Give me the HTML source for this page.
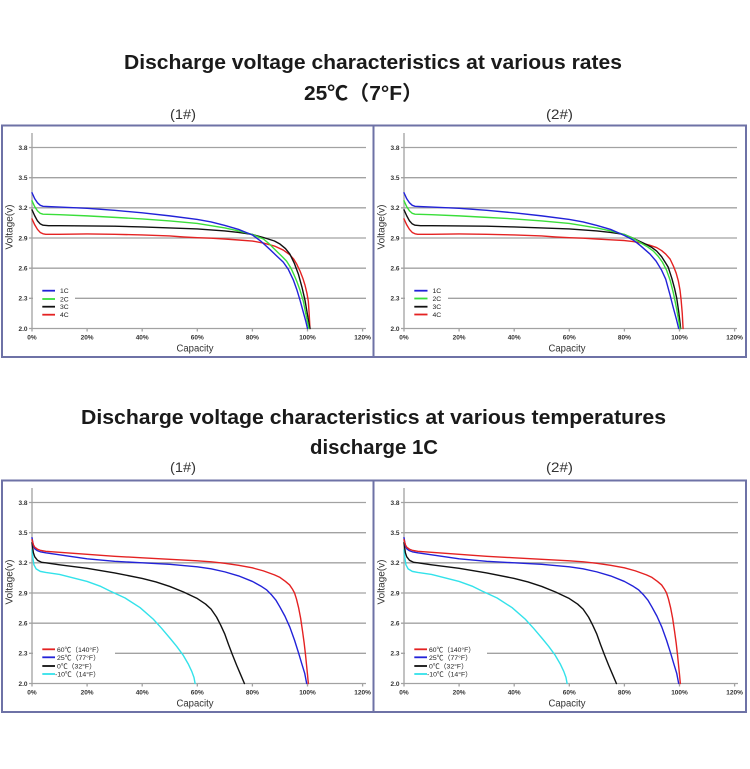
<!DOCTYPE html>
<html>
<head>
<meta charset="utf-8">
<style>
html,body{margin:0;padding:0;background:#fff;}
svg{display:block;}
.t{font-family:"Liberation Sans","Noto Sans CJK SC",sans-serif;}
.tk{font-family:"Liberation Sans",sans-serif;font-size:6.5px;font-weight:bold;fill:#333;}
.lg{font-family:"Liberation Sans","Noto Sans CJK SC",sans-serif;font-size:6.8px;fill:#222;}
.ax{font-family:"Liberation Sans",sans-serif;font-size:10px;fill:#333;}
.grid line{stroke:#a2a2a2;stroke-width:1.3;}
.c{fill:none;stroke-width:1.4;vector-effect:non-scaling-stroke;stroke-linejoin:round;stroke-linecap:round;}
</style>
</head>
<body>
<svg width="750" height="769" viewBox="0 0 750 769" xmlns="http://www.w3.org/2000/svg">
<rect width="750" height="769" fill="#fff"/>

<!-- Titles -->
<text class="t" x="124" y="69" font-size="20" font-weight="bold" fill="#1a1a1a" textLength="498" lengthAdjust="spacingAndGlyphs">Discharge voltage characteristics at various rates</text>
<text class="t" x="304" y="100" font-size="20" font-weight="bold" fill="#1a1a1a" textLength="119" lengthAdjust="spacingAndGlyphs">25℃（7°F）</text>
<text class="t" x="170" y="119" font-size="14" fill="#333" textLength="26" lengthAdjust="spacingAndGlyphs">(1#)</text>
<text class="t" x="546" y="119" font-size="14" fill="#333" textLength="27" lengthAdjust="spacingAndGlyphs">(2#)</text>

<text class="t" x="81" y="424" font-size="20" font-weight="bold" fill="#1a1a1a" textLength="585" lengthAdjust="spacingAndGlyphs">Discharge voltage characteristics at various temperatures</text>
<text class="t" x="310" y="454" font-size="20" font-weight="bold" fill="#1a1a1a" textLength="128" lengthAdjust="spacingAndGlyphs">discharge 1C</text>
<text class="t" x="170" y="472" font-size="14" fill="#333" textLength="26" lengthAdjust="spacingAndGlyphs">(1#)</text>
<text class="t" x="546" y="472" font-size="14" fill="#333" textLength="27" lengthAdjust="spacingAndGlyphs">(2#)</text>

<!-- Frames -->
<rect x="2" y="125.5" width="744" height="231.5" fill="none" stroke="#6e72a6" stroke-width="2"/>
<line x1="373.5" y1="125.5" x2="373.5" y2="357" stroke="#6e72a6" stroke-width="2"/>
<rect x="2" y="480.5" width="744" height="231.5" fill="none" stroke="#6e72a6" stroke-width="2"/>
<line x1="373.5" y1="480.5" x2="373.5" y2="712" stroke="#6e72a6" stroke-width="2"/>

<!-- ============ TOP LEFT ============ -->
<g class="grid">
<line x1="29" y1="147.5" x2="366" y2="147.5"/>
<line x1="29" y1="177.7" x2="366" y2="177.7"/>
<line x1="29" y1="207.8" x2="366" y2="207.8"/>
<line x1="29" y1="238" x2="366" y2="238"/>
<line x1="29" y1="268.2" x2="366" y2="268.2"/>
<line x1="29" y1="298.3" x2="366" y2="298.3"/>
<line x1="29" y1="328.5" x2="366" y2="328.5"/>
<line x1="32" y1="133" x2="32" y2="331.5"/>
<line x1="87.1" y1="328.5" x2="87.1" y2="331.5"/>
<line x1="142.2" y1="328.5" x2="142.2" y2="331.5"/>
<line x1="197.3" y1="328.5" x2="197.3" y2="331.5"/>
<line x1="252.4" y1="328.5" x2="252.4" y2="331.5"/>
<line x1="307.5" y1="328.5" x2="307.5" y2="331.5"/>
<line x1="362.6" y1="328.5" x2="362.6" y2="331.5"/>
</g>
<g class="tk" text-anchor="end">
<text x="27.5" y="149.8">3.8</text><text x="27.5" y="180">3.5</text><text x="27.5" y="210.1">3.2</text><text x="27.5" y="240.3">2.9</text><text x="27.5" y="270.5">2.6</text><text x="27.5" y="300.6">2.3</text><text x="27.5" y="330.8">2.0</text>
</g>
<g class="tk" text-anchor="middle">
<text x="32" y="339.5">0%</text><text x="87.1" y="339.5">20%</text><text x="142.2" y="339.5">40%</text><text x="197.3" y="339.5">60%</text><text x="252.4" y="339.5">80%</text><text x="307.5" y="339.5">100%</text><text x="362.6" y="339.5">120%</text>
</g>
<text class="ax" transform="translate(12.5,227) rotate(-90)" text-anchor="middle" textLength="45" lengthAdjust="spacingAndGlyphs">Voltage(v)</text>
<text class="ax" x="176.5" y="351.5" textLength="37" lengthAdjust="spacingAndGlyphs">Capacity</text>
<rect x="33" y="281" width="42" height="41" fill="#fff"/>
<g transform="translate(32,328.5) scale(2.755,-100.56) translate(0,-2)">
<polyline class="c" stroke="#e42222" points="0,3.09 1,3.03 2,2.985 3,2.955 4,2.942 5,2.937 10,2.937 20,2.94 30,2.937 40,2.93 50,2.92 55,2.91 60,2.903 65,2.898 70,2.89 75,2.88 80,2.87 84,2.85 88,2.82 91.2,2.78 93.5,2.735 95,2.69 96.1,2.64 97.3,2.57 98.3,2.5 99.1,2.43 99.8,2.35 100.3,2.27 100.6,2.15 100.9,2.0"/>
<polyline class="c" stroke="#111" points="0,3.18 1,3.12 2,3.07 3,3.04 4,3.027 6,3.022 10,3.022 20,3.02 30,3.017 40,3.01 50,3.0 60,2.99 70,2.97 75,2.955 80,2.935 84,2.905 88,2.87 90,2.84 92,2.795 93.6,2.74 95.2,2.65 96.7,2.54 98,2.41 99.1,2.28 100.1,2.12 100.9,2.0"/>
<polyline class="c" stroke="#3ade3a" points="0,3.27 1,3.21 2,3.17 3,3.145 4,3.137 10,3.132 20,3.12 30,3.105 40,3.09 50,3.07 60,3.045 70,3.0 75,2.97 80,2.935 84,2.89 86,2.845 87.6,2.8 89.5,2.75 91,2.71 92.4,2.67 94,2.6 95,2.54 96.1,2.47 97.3,2.38 98.5,2.27 99.5,2.13 100.5,2.0"/>
<polyline class="c" stroke="#2222d8" points="0,3.35 1,3.29 2,3.25 3,3.225 4,3.215 6,3.212 10,3.208 20,3.195 30,3.175 40,3.15 50,3.12 60,3.085 65,3.06 70,3.025 75,2.985 80,2.93 83,2.87 86.4,2.785 88.5,2.73 91.2,2.66 93,2.59 94.9,2.48 96.2,2.38 97.3,2.28 98.5,2.16 99.4,2.07 100,2.0"/>
</g>
<g stroke-width="1.8">
<line x1="42.3" y1="290.7" x2="55" y2="290.7" stroke="#2222d8"/>
<line x1="42.3" y1="299" x2="55" y2="299" stroke="#3ade3a"/>
<line x1="42.3" y1="306.7" x2="55" y2="306.7" stroke="#111"/>
<line x1="42.3" y1="314.7" x2="55" y2="314.7" stroke="#e42222"/>
</g>
<g class="lg"><text x="60" y="293">1C</text><text x="60" y="301.3">2C</text><text x="60" y="309">3C</text><text x="60" y="317">4C</text></g>

<!-- ============ TOP RIGHT ============ -->
<g class="grid">
<line x1="401" y1="147.5" x2="737" y2="147.5"/>
<line x1="401" y1="177.7" x2="737" y2="177.7"/>
<line x1="401" y1="207.8" x2="737" y2="207.8"/>
<line x1="401" y1="238" x2="737" y2="238"/>
<line x1="401" y1="268.2" x2="737" y2="268.2"/>
<line x1="401" y1="298.3" x2="737" y2="298.3"/>
<line x1="401" y1="328.5" x2="737" y2="328.5"/>
<line x1="404" y1="133" x2="404" y2="331.5"/>
<line x1="459.1" y1="328.5" x2="459.1" y2="331.5"/>
<line x1="514.2" y1="328.5" x2="514.2" y2="331.5"/>
<line x1="569.3" y1="328.5" x2="569.3" y2="331.5"/>
<line x1="624.4" y1="328.5" x2="624.4" y2="331.5"/>
<line x1="679.5" y1="328.5" x2="679.5" y2="331.5"/>
<line x1="734.6" y1="328.5" x2="734.6" y2="331.5"/>
</g>
<g class="tk" text-anchor="end">
<text x="399.5" y="149.8">3.8</text><text x="399.5" y="180">3.5</text><text x="399.5" y="210.1">3.2</text><text x="399.5" y="240.3">2.9</text><text x="399.5" y="270.5">2.6</text><text x="399.5" y="300.6">2.3</text><text x="399.5" y="330.8">2.0</text>
</g>
<g class="tk" text-anchor="middle">
<text x="404" y="339.5">0%</text><text x="459.1" y="339.5">20%</text><text x="514.2" y="339.5">40%</text><text x="569.3" y="339.5">60%</text><text x="624.4" y="339.5">80%</text><text x="679.5" y="339.5">100%</text><text x="734.6" y="339.5">120%</text>
</g>
<text class="ax" transform="translate(384.5,227) rotate(-90)" text-anchor="middle" textLength="45" lengthAdjust="spacingAndGlyphs">Voltage(v)</text>
<text class="ax" x="548.5" y="351.5" textLength="37" lengthAdjust="spacingAndGlyphs">Capacity</text>
<rect x="405" y="281" width="43" height="41" fill="#fff"/>
<g transform="translate(404,328.5) scale(2.755,-100.56) translate(0,-2)">
<polyline class="c" stroke="#e42222" points="0,3.09 1,3.03 2,2.985 3,2.955 4,2.942 5,2.937 10,2.937 20,2.94 30,2.937 40,2.93 50,2.92 55,2.91 60,2.903 65,2.898 70,2.89 75,2.882 80,2.875 83.2,2.865 86,2.85 89,2.83 91.7,2.805 93.5,2.775 95,2.74 96.6,2.69 97.8,2.62 98.8,2.55 99.6,2.47 100.2,2.38 100.6,2.28 101,2.15 101.3,2.0"/>
<polyline class="c" stroke="#111" points="0,3.18 1,3.12 2,3.07 3,3.04 4,3.027 6,3.022 10,3.022 20,3.02 30,3.017 40,3.01 50,3.0 60,2.99 70,2.97 75,2.955 80,2.935 83,2.9 85.7,2.865 88,2.835 90,2.805 91.7,2.77 93.5,2.715 95,2.65 95.9,2.61 97.2,2.5 98.2,2.4 99,2.3 99.7,2.17 100.1,2.08 100.4,2.0"/>
<polyline class="c" stroke="#3ade3a" points="0,3.27 1,3.21 2,3.17 3,3.145 4,3.137 10,3.132 20,3.12 30,3.105 40,3.09 50,3.07 60,3.045 70,3.0 75,2.97 80,2.935 83,2.9 86,2.85 88.5,2.81 90.5,2.77 92.2,2.72 93.8,2.66 95.3,2.58 96.6,2.48 97.8,2.35 99,2.19 99.7,2.08 100.2,2.0"/>
<polyline class="c" stroke="#2222d8" points="0,3.35 1,3.29 2,3.25 3,3.225 4,3.215 6,3.212 10,3.208 20,3.195 30,3.175 40,3.15 50,3.12 60,3.085 65,3.06 70,3.025 75,2.985 80,2.925 83.2,2.88 86,2.82 89.3,2.74 91.5,2.67 93.5,2.58 95,2.49 96.6,2.33 97.8,2.2 98.9,2.09 99.7,2.0"/>
</g>
<g stroke-width="1.8">
<line x1="414.3" y1="290.7" x2="427.5" y2="290.7" stroke="#2222d8"/>
<line x1="414.3" y1="298.5" x2="427.5" y2="298.5" stroke="#3ade3a"/>
<line x1="414.3" y1="306.7" x2="427.5" y2="306.7" stroke="#111"/>
<line x1="414.3" y1="314.5" x2="427.5" y2="314.5" stroke="#e42222"/>
</g>
<g class="lg"><text x="432.5" y="293">1C</text><text x="432.5" y="300.8">2C</text><text x="432.5" y="309">3C</text><text x="432.5" y="316.8">4C</text></g>

<!-- ============ BOTTOM LEFT ============ -->
<g class="grid">
<line x1="29" y1="502.5" x2="366" y2="502.5"/>
<line x1="29" y1="532.7" x2="366" y2="532.7"/>
<line x1="29" y1="562.8" x2="366" y2="562.8"/>
<line x1="29" y1="593" x2="366" y2="593"/>
<line x1="29" y1="623.2" x2="366" y2="623.2"/>
<line x1="29" y1="653.3" x2="366" y2="653.3"/>
<line x1="29" y1="683.5" x2="366" y2="683.5"/>
<line x1="32" y1="488" x2="32" y2="686.5"/>
<line x1="87.1" y1="683.5" x2="87.1" y2="686.5"/>
<line x1="142.2" y1="683.5" x2="142.2" y2="686.5"/>
<line x1="197.3" y1="683.5" x2="197.3" y2="686.5"/>
<line x1="252.4" y1="683.5" x2="252.4" y2="686.5"/>
<line x1="307.5" y1="683.5" x2="307.5" y2="686.5"/>
<line x1="362.6" y1="683.5" x2="362.6" y2="686.5"/>
</g>
<g class="tk" text-anchor="end">
<text x="27.5" y="504.8">3.8</text><text x="27.5" y="535">3.5</text><text x="27.5" y="565.1">3.2</text><text x="27.5" y="595.3">2.9</text><text x="27.5" y="625.5">2.6</text><text x="27.5" y="655.6">2.3</text><text x="27.5" y="685.8">2.0</text>
</g>
<g class="tk" text-anchor="middle">
<text x="32" y="694.5">0%</text><text x="87.1" y="694.5">20%</text><text x="142.2" y="694.5">40%</text><text x="197.3" y="694.5">60%</text><text x="252.4" y="694.5">80%</text><text x="307.5" y="694.5">100%</text><text x="362.6" y="694.5">120%</text>
</g>
<text class="ax" transform="translate(12.5,582) rotate(-90)" text-anchor="middle" textLength="45" lengthAdjust="spacingAndGlyphs">Voltage(v)</text>
<text class="ax" x="176.5" y="706.5" textLength="37" lengthAdjust="spacingAndGlyphs">Capacity</text>
<rect x="33" y="640" width="82" height="41" fill="#fff"/>
<g id="tcurves" transform="translate(32,683.5) scale(2.755,-100.56) translate(0,-2)">
<polyline class="c" stroke="#33e2ea" points="0,3.33 0.3,3.25 0.7,3.18 1.5,3.14 3,3.115 5,3.105 10,3.085 15,3.05 20,3.015 25,2.965 28.3,2.92 33.8,2.85 39.2,2.755 44,2.64 47,2.55 50.1,2.45 52.5,2.37 54.9,2.28 56.8,2.19 58,2.12 58.8,2.06 59.2,2.0"/>
<polyline class="c" stroke="#111" points="0,3.4 0.5,3.3 1,3.26 2,3.225 3.5,3.205 5,3.2 10,3.18 20,3.145 30,3.1 40,3.045 45,3.01 50,2.965 55,2.91 60,2.845 63,2.79 65,2.74 67,2.66 68.5,2.58 70,2.49 71.3,2.39 72.7,2.29 74.3,2.18 75.7,2.09 77.1,2.0"/>
<polyline class="c" stroke="#2222d8" points="0,3.45 0.5,3.37 1,3.34 2,3.32 3,3.31 5,3.3 10,3.28 20,3.24 30,3.215 40,3.2 50,3.185 60,3.16 65,3.14 70,3.11 75,3.07 80,3.015 83,2.97 85.2,2.93 87,2.88 88.5,2.83 90,2.76 91.8,2.67 93.6,2.56 95.3,2.43 96.8,2.3 98,2.19 99,2.1 99.7,2.0"/>
<polyline class="c" stroke="#e42222" points="0,3.43 0.5,3.38 1,3.355 2,3.335 3,3.325 5,3.315 10,3.305 20,3.285 30,3.265 40,3.25 50,3.235 60,3.22 65,3.21 70,3.195 75,3.175 80,3.15 84,3.12 88,3.08 90,3.055 92,3.015 93.5,2.98 94.5,2.94 95.3,2.9 96,2.84 96.8,2.75 97.5,2.65 98.2,2.52 98.8,2.4 99.3,2.28 99.7,2.17 100,2.09 100.3,2.0"/>
</g>
<g stroke-width="1.8">
<line x1="42.3" y1="649.3" x2="55" y2="649.3" stroke="#e42222"/>
<line x1="42.3" y1="657.3" x2="55" y2="657.3" stroke="#2222d8"/>
<line x1="42.3" y1="666" x2="55" y2="666" stroke="#111"/>
<line x1="42.3" y1="674" x2="55" y2="674" stroke="#33e2ea"/>
</g>
<g class="lg">
<text x="57" y="651.8" textLength="46" lengthAdjust="spacingAndGlyphs">60℃（140°F）</text>
<text x="57" y="659.8" textLength="43" lengthAdjust="spacingAndGlyphs">25℃（77°F）</text>
<text x="57" y="668.5" textLength="39" lengthAdjust="spacingAndGlyphs">0℃（32°F）</text>
<text x="55" y="676.5" textLength="45" lengthAdjust="spacingAndGlyphs">-10℃（14°F）</text>
</g>

<!-- ============ BOTTOM RIGHT ============ -->
<g class="grid">
<line x1="401" y1="502.5" x2="738" y2="502.5"/>
<line x1="401" y1="532.7" x2="738" y2="532.7"/>
<line x1="401" y1="562.8" x2="738" y2="562.8"/>
<line x1="401" y1="593" x2="738" y2="593"/>
<line x1="401" y1="623.2" x2="738" y2="623.2"/>
<line x1="401" y1="653.3" x2="738" y2="653.3"/>
<line x1="401" y1="683.5" x2="738" y2="683.5"/>
<line x1="404" y1="488" x2="404" y2="686.5"/>
<line x1="459.1" y1="683.5" x2="459.1" y2="686.5"/>
<line x1="514.2" y1="683.5" x2="514.2" y2="686.5"/>
<line x1="569.3" y1="683.5" x2="569.3" y2="686.5"/>
<line x1="624.4" y1="683.5" x2="624.4" y2="686.5"/>
<line x1="679.5" y1="683.5" x2="679.5" y2="686.5"/>
<line x1="734.6" y1="683.5" x2="734.6" y2="686.5"/>
</g>
<g class="tk" text-anchor="end">
<text x="399.5" y="504.8">3.8</text><text x="399.5" y="535">3.5</text><text x="399.5" y="565.1">3.2</text><text x="399.5" y="595.3">2.9</text><text x="399.5" y="625.5">2.6</text><text x="399.5" y="655.6">2.3</text><text x="399.5" y="685.8">2.0</text>
</g>
<g class="tk" text-anchor="middle">
<text x="404" y="694.5">0%</text><text x="459.1" y="694.5">20%</text><text x="514.2" y="694.5">40%</text><text x="569.3" y="694.5">60%</text><text x="624.4" y="694.5">80%</text><text x="679.5" y="694.5">100%</text><text x="734.6" y="694.5">120%</text>
</g>
<text class="ax" transform="translate(384.5,582) rotate(-90)" text-anchor="middle" textLength="45" lengthAdjust="spacingAndGlyphs">Voltage(v)</text>
<text class="ax" x="548.5" y="706.5" textLength="37" lengthAdjust="spacingAndGlyphs">Capacity</text>
<rect x="405" y="640" width="82" height="41" fill="#fff"/>
<g transform="translate(404,683.5) scale(2.755,-100.56) translate(0,-2)">
<polyline class="c" stroke="#33e2ea" points="0,3.33 0.3,3.25 0.7,3.18 1.5,3.14 3,3.115 5,3.105 10,3.085 15,3.05 20,3.015 25,2.965 28.3,2.92 33.8,2.85 39.2,2.755 44,2.64 47,2.55 50.1,2.45 52.5,2.37 54.9,2.28 56.8,2.19 58,2.12 58.8,2.06 59.2,2.0"/>
<polyline class="c" stroke="#111" points="0,3.4 0.5,3.3 1,3.26 2,3.225 3.5,3.205 5,3.2 10,3.18 20,3.145 30,3.1 40,3.045 45,3.01 50,2.965 55,2.91 60,2.845 63,2.79 65,2.74 67,2.66 68.5,2.58 70,2.49 71.3,2.39 72.7,2.29 74.3,2.18 75.7,2.09 77.1,2.0"/>
<polyline class="c" stroke="#2222d8" points="0,3.45 0.5,3.37 1,3.34 2,3.32 3,3.31 5,3.3 10,3.28 20,3.24 30,3.215 40,3.2 50,3.185 60,3.16 65,3.14 70,3.11 75,3.07 80,3.015 83,2.97 85.2,2.93 87,2.88 88.5,2.83 90,2.76 91.8,2.67 93.6,2.56 95.3,2.43 96.8,2.3 98,2.19 99,2.1 99.7,2.0"/>
<polyline class="c" stroke="#e42222" points="0,3.43 0.5,3.38 1,3.355 2,3.335 3,3.325 5,3.315 10,3.305 20,3.285 30,3.265 40,3.25 50,3.235 60,3.22 65,3.21 70,3.195 75,3.175 80,3.15 84,3.12 88,3.08 90,3.055 92,3.015 93.5,2.98 94.5,2.94 95.3,2.9 96,2.84 96.8,2.75 97.5,2.65 98.2,2.52 98.8,2.4 99.3,2.28 99.7,2.17 100,2.09 100.3,2.0"/>
</g>
<g stroke-width="1.8">
<line x1="414.3" y1="649.3" x2="427" y2="649.3" stroke="#e42222"/>
<line x1="414.3" y1="657.3" x2="427" y2="657.3" stroke="#2222d8"/>
<line x1="414.3" y1="666" x2="427" y2="666" stroke="#111"/>
<line x1="414.3" y1="674" x2="427" y2="674" stroke="#33e2ea"/>
</g>
<g class="lg">
<text x="429" y="651.8" textLength="46" lengthAdjust="spacingAndGlyphs">60℃（140°F）</text>
<text x="429" y="659.8" textLength="43" lengthAdjust="spacingAndGlyphs">25℃（77°F）</text>
<text x="429" y="668.5" textLength="39" lengthAdjust="spacingAndGlyphs">0℃（32°F）</text>
<text x="427" y="676.5" textLength="45" lengthAdjust="spacingAndGlyphs">-10℃（14°F）</text>
</g>
</svg>
</body>
</html>
